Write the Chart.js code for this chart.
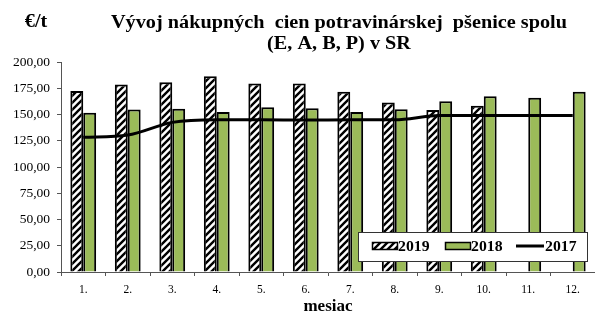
<!DOCTYPE html>
<html>
<head>
<meta charset="utf-8">
<script src="https://cdn.jsdelivr.net/npm/chart.js@4.4.1/dist/chart.umd.min.js"></script>
<style>
  html, body { margin: 0; padding: 0; background: #fff; }
  #wrap { width: 595px; height: 312px; position: relative; }
</style>
</head>
<body>
<div id="wrap"><canvas id="chart" width="595" height="312"></canvas></div>
<script>
// Data
const months = ['1.', '2.', '3.', '4.', '5.', '6.', '7.', '8.', '9.', '10.', '11.', '12.'];
const v2019 = [172.5, 178.5, 180.7, 186.5, 179.5, 179.5, 171.6, 161.5, 154.2, 158.3, null, null];
const v2018 = [151.7, 154.8, 155.5, 152.3, 157.0, 156.0, 152.3, 155.1, 162.7, 167.5, 165.9, 171.6];
const v2017 = [128.3, 130.5, 142.5, 145.0, 145.0, 144.7, 145.0, 145.0, 149.0, 149.0, 149.0, 149.0];

const titleLines = ['Vývoj nákupných  cien potravinárskej  pšenice spolu', '(E, A, B, P) v SR'];
const unitLabel = '€/t';
const xTitle = 'mesiac';

const serif = '"Liberation Serif", "Times New Roman", serif';
const green = '#9BBB59';

// hatch pattern for 2019
const makeHatch = () => {
    const c = document.createElement('canvas');
    c.width = 7; c.height = 7;
    const g = c.getContext('2d');
    g.fillStyle = '#fff';
    g.fillRect(0, 0, 7, 7);
    g.strokeStyle = '#000';
    g.lineWidth = 2.4;
    g.beginPath();
    g.moveTo(-1, 8); g.lineTo(8, -1);
    g.moveTo(-5, 5); g.lineTo(5, -5);
    g.moveTo(2, 12); g.lineTo(12, 2);
    g.stroke();
    return g.createPattern(c, 'repeat');
};

document.addEventListener('DOMContentLoaded', () => {
    const ctx = document.getElementById('chart').getContext('2d');
    const hatch = makeHatch();

    // stretched bold text, like the original (slightly wide)
    const wideText = (c, txt, x, y, sx) => {
        c.save();
        c.translate(x, y);
        c.scale(sx, 1);
        c.fillText(txt, 0, 0);
        c.restore();
    };

    // title, unit and legend drawn on top
    const decor = {
        id: 'decor',
        afterDraw: (chart) => {
            const c = chart.ctx;
            c.save();
            c.fillStyle = '#000';
            c.textAlign = 'center';
            c.textBaseline = 'middle';
            c.font = 'bold 18px ' + serif;
            const sx = 456 / c.measureText(titleLines[0]).width;
            wideText(c, titleLines[0], 339, 23, sx);
            wideText(c, titleLines[1], 339, 44, sx);
            wideText(c, unitLabel, 36, 22, sx);

            // legend box
            const lx = 358, ly = 232, lw = 229, lh = 29;
            c.fillStyle = '#fff';
            c.fillRect(lx, ly, lw, lh);
            c.strokeStyle = '#333';
            c.lineWidth = 1;
            c.strokeRect(lx + 0.5, ly + 0.5, lw, lh);

            const byLabel = (l) => chart.data.datasets.find(d => d.label === l);
            const d19 = byLabel('2019'), d18 = byLabel('2018'), d17 = byLabel('2017');
            const cy = 246;
            c.font = 'bold 15px ' + serif;
            c.textAlign = 'left';
            c.strokeStyle = '#000';
            c.lineWidth = 1.5;
            // 2019
            c.fillStyle = d19.backgroundColor;
            c.fillRect(372, cy - 4, 25, 7);
            c.strokeRect(372.5, cy - 3.5, 25, 7);
            c.fillStyle = '#000';
            wideText(c, d19.label, 398, cy + 1, 1.05);
            // 2018
            c.fillStyle = d18.backgroundColor;
            c.fillRect(445, cy - 4, 25, 7);
            c.strokeRect(445.5, cy - 3.5, 25, 7);
            c.fillStyle = '#000';
            wideText(c, d18.label, 471, cy + 1, 1.05);
            // 2017
            c.strokeStyle = d17.borderColor;
            c.lineWidth = 3;
            c.beginPath();
            c.moveTo(516, cy);
            c.lineTo(544, cy);
            c.stroke();
            wideText(c, d17.label, 545, cy + 1, 1.05);
            c.restore();
        }
    };

    new Chart(ctx, {
        type: 'bar',
        data: {
            labels: months,
            datasets: [
                {
                    type: 'line',
                    label: '2017',
                    data: v2017,
                    borderColor: '#000',
                    borderWidth: 3,
                    pointRadius: 0,
                    cubicInterpolationMode: 'monotone',
                    fill: false,
                    order: 0
                },
                {
                    label: '2019',
                    data: v2019,
                    backgroundColor: hatch,
                    borderColor: '#000',
                    borderWidth: 2,
                    order: 1
                },
                {
                    label: '2018',
                    data: v2018,
                    backgroundColor: green,
                    borderColor: '#000',
                    borderWidth: 2,
                    order: 1
                }
            ]
        },
        options: {
            responsive: false,
            animation: false,
            layout: { padding: { top: 62, right: 0, bottom: 0, left: 0 } },
            datasets: {
                bar: { categoryPercentage: 0.58, barPercentage: 1.0 }
            },
            scales: {
                x: {
                    grid: {
                        drawOnChartArea: false,
                        drawTicks: true,
                        tickLength: 4,
                        color: '#555',
                        offset: true
                    },
                    border: { display: true, color: '#555', width: 1 },
                    ticks: {
                        color: '#000',
                        font: { family: serif, size: 11.5 },
                        padding: 7,
                        maxRotation: 0
                    },
                    title: {
                        display: true,
                        text: xTitle,
                        color: '#000',
                        font: { family: serif, size: 17, weight: 'bold', lineHeight: 1 },
                        padding: { top: 0, bottom: -3 }
                    },
                    afterFit: (s) => { s.height = 40; }
                },
                y: {
                    min: 0,
                    max: 200,
                    ticks: {
                        stepSize: 25,
                        color: '#000',
                        font: { family: serif, size: 13.5 },
                        padding: 7,
                        callback: (v) => v.toFixed(2).replace('.', ',')
                    },
                    grid: {
                        drawOnChartArea: false,
                        drawTicks: true,
                        tickLength: 4,
                        color: '#555'
                    },
                    border: { display: true, color: '#555', width: 1 },
                    afterFit: (s) => { s.width = 61; }
                }
            },
            plugins: {
                legend: { display: false },
                tooltip: { enabled: false },
                title: { display: false }
            }
        },
        plugins: [decor]
    });
});
</script>
</body>
</html>
